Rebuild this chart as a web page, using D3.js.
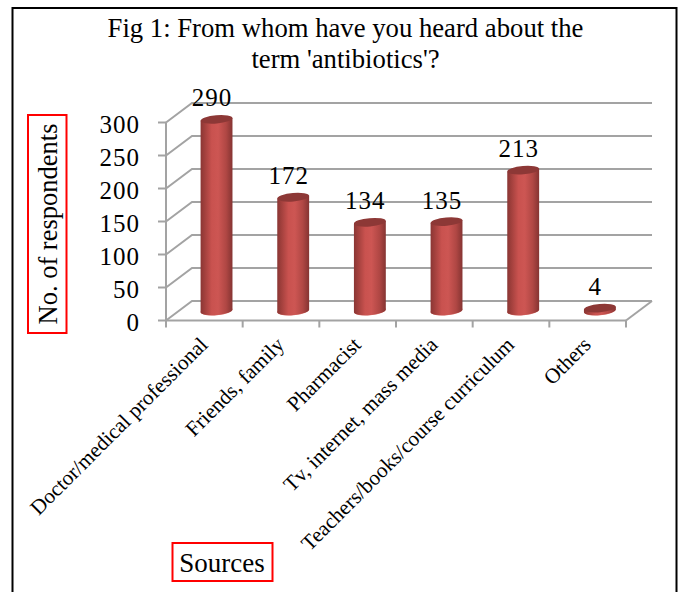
<!DOCTYPE html>
<html><head><meta charset="utf-8">
<script src="https://cdn.jsdelivr.net/npm/d3@7"></script>
<style>html,body{margin:0;padding:0;background:#fff}svg{display:block}</style>
</head><body><div id="chart"></div>
<script>
const categories = ["Doctor/medical professional","Friends, family","Pharmacist","Tv, internet, mass media","Teachers/books/course curriculum","Others"];
const values = [290,172,134,135,213,4];
const yTicks = [0,50,100,150,200,250,300];
const titleLines = ["Fig 1: From whom have you heard about the","term 'antibiotics'?"];
const yTitle = "No. of respondents";
const xTitle = "Sources";

const W=683,H=592, serif="'Liberation Serif','Times New Roman',serif";
const svg=d3.select("#chart").append("svg").attr("width",W).attr("height",H);
const defs=svg.append("defs");
const grad=defs.append("linearGradient").attr("id","cyl").attr("x1",0).attr("x2",1).attr("y1",0).attr("y2",0);
[[0,"#8a3634"],[0.12,"#a03f3c"],[0.35,"#c9524f"],[0.55,"#cd5653"],[0.8,"#b04744"],[1,"#853432"]]
  .forEach(([o,c])=>grad.append("stop").attr("offset",o).attr("stop-color",c));

const x=d3.scaleBand().domain(categories).range([166,626]);
const y=d3.scaleLinear().domain([0,300]).range([320.5,122.5]);
const dx=26,dy=-19.5;
const grid="#a3a3a3";

svg.append("rect").attr("x",12.5).attr("y",8).attr("width",664).attr("height",H+20).attr("fill","none").attr("stroke","#000").attr("stroke-width",2);

svg.append("g").selectAll("text").data(titleLines).join("text")
  .attr("x",345.5).attr("y",(d,i)=>37+i*31).attr("text-anchor","middle")
  .attr("font-family",serif).attr("font-size",26.7).attr("fill","#000").text(d=>d);

const g=svg.append("g").attr("fill","none").attr("stroke",grid).attr("stroke-width",2);
yTicks.forEach(t=>{
  g.append("path").attr("d",d3.line()([[x.range()[0],y(t)],[x.range()[0]+dx,y(t)+dy],[x.range()[1]+dx,y(t)+dy]]));
});
g.append("path").attr("d",d3.line()([[x.range()[1],y(0)],[x.range()[1]+dx,y(0)+dy]]));
g.append("path").attr("d",d3.line()([[x.range()[0],y(0)],[x.range()[1],y(0)]]));
g.append("path").attr("d",d3.line()([[x.range()[0],y(300)],[x.range()[0],y(0)]]));

yTicks.forEach(t=>g.append("path").attr("d",d3.line()([[x.range()[0]-8,y(t)],[x.range()[0],y(t)]])));
[...categories.map(c=>x(c)),x.range()[1]].forEach(v=>
  g.append("path").attr("d",d3.line()([[v,y(0)],[v,y(0)+7]])));

svg.append("g").selectAll("text").data(yTicks).join("text")
  .attr("x",140).attr("y",t=>y(t)+10).attr("text-anchor","end")
  .attr("font-family",serif).attr("font-size",25).attr("letter-spacing",1).attr("fill","#000").text(d=>d);

const rx=16,ry=4.2,rot=-5;
const cx=c=>x(c)+x.bandwidth()/2+12.2;
const baseY=y(0)+dy/2;
const topY=v=>baseY-(y(0)-y(v));
const rows=categories.map((c,i)=>({c,v:values[i]}));
const bars=svg.append("g").selectAll("g").data(rows).join("g");
bars.append("ellipse").attr("rx",rx).attr("ry",ry+0.3)
  .attr("transform",d=>`translate(${cx(d.c)},${baseY}) rotate(${rot})`).attr("fill","#d9706c");
bars.append("path").attr("fill","url(#cyl)").attr("d",d=>{
  const c=cx(d.c),a=rot*Math.PI/180,ex=rx*Math.cos(a),ey=rx*Math.sin(a),t=topY(d.v);
  return `M${c-ex},${baseY-ey}L${c-ex},${t-ey}L${c+ex},${t+ey}L${c+ex},${baseY+ey}`+
         `A${rx},${ry} ${rot} 0 1 ${c-ex},${baseY-ey}Z`;
});
bars.append("ellipse").attr("rx",rx).attr("ry",ry)
  .attr("transform",d=>`translate(${cx(d.c)},${topY(d.v)}) rotate(${rot})`).attr("fill","#8d3836");

svg.append("g").selectAll("text").data(rows).join("text")
  .attr("x",d=>cx(d.c)-4.5).attr("y",d=>topY(d.v)-13).attr("text-anchor","middle")
  .attr("font-family",serif).attr("font-size",25).attr("letter-spacing",1).attr("fill","#000").text(d=>d.v);

svg.append("g").selectAll("text").data(categories).join("text")
  .attr("transform",c=>`translate(${x(c)+x.bandwidth()/2+4.5},${y(0)+25.5}) rotate(-45)`)
  .attr("text-anchor","end").attr("font-family",serif).attr("font-size",21.2).attr("fill","#000").text(d=>d);

svg.append("rect").attr("x",28).attr("y",115).attr("width",38.5).attr("height",218).attr("fill","none").attr("stroke","#f00").attr("stroke-width",2);
svg.append("text").attr("transform","translate(57,224) rotate(-90)").attr("text-anchor","middle")
  .attr("font-family",serif).attr("font-size",26.5).attr("fill","#000").text(yTitle);
svg.append("rect").attr("x",172.5).attr("y",543).attr("width",100).attr("height",38).attr("fill","none").attr("stroke","#f00").attr("stroke-width",2);
svg.append("text").attr("x",222).attr("y",572).attr("text-anchor","middle")
  .attr("font-family",serif).attr("font-size",27).attr("fill","#000").text(xTitle);
</script></body></html>
